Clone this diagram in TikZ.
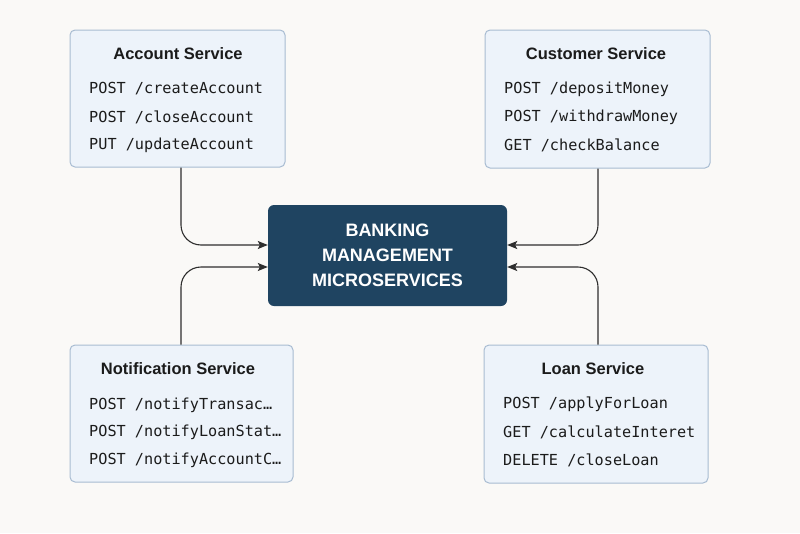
\documentclass[tikz,border=0pt]{standalone}
\usepackage{fontspec}
\setmainfont{Liberation Sans}
\newfontfamily\monofnt{DejaVu Sans Mono}
\usetikzlibrary{arrows.meta}
\definecolor{bgc}{HTML}{FAF9F7}
\definecolor{boxfill}{HTML}{EDF3FA}
\definecolor{boxdraw}{HTML}{A8BCD2}
\definecolor{corefill}{HTML}{1F4461}
\definecolor{txt}{HTML}{1B1B1B}
\definecolor{linec}{HTML}{2E2E2E}
\tikzset{
  svc/.style={draw=boxdraw, fill=boxfill, line width=1pt, rounded corners=5pt, inner sep=0pt},
  ttl/.style={font=\fontsize{16.5}{19}\selectfont\bfseries, text=txt, inner sep=0pt},
  ep/.style={font=\monofnt\fontsize{15.2}{18}\selectfont, text=txt, inner sep=0pt, anchor=west},
  core/.style={fill=corefill, rounded corners=6pt, inner sep=0pt, text=white, align=center,
    font=\fontsize{18}{25}\selectfont\bfseries},
  conn/.style={draw=linec, line width=1.1pt, rounded corners=20pt, -{Stealth[length=10pt,width=8pt,inset=2pt]}}
}
\begin{document}
\begin{tikzpicture}[x=1pt,y=-1pt]
\fill[bgc] (0,0) rectangle (800,533);
\useasboundingbox (0,0) rectangle (800,533);

% central node
\node[core, minimum width=239pt, minimum height=101pt] (core) at (387.5,255.5)
  {BANKING\\MANAGEMENT\\MICROSERVICES};

% Account Service
\node[svc, minimum width=215pt, minimum height=137pt] (acc) at (177.5,98.5) {};
\node[ttl] (acct) at (178,54) {Account Service};
\node[ep] (acc1) at (89,89) {POST /createAccount};
\node[ep] (acc2) at (89,117) {POST /closeAccount};
\node[ep] (acc3) at (89,145) {PUT /updateAccount};

% Customer Service
\node[svc, minimum width=225pt, minimum height=138pt] (cus) at (597.5,99) {};
\node[ttl] (cust) at (596,54) {Customer Service};
\node[ep] (cus1) at (504,89) {POST /depositMoney};
\node[ep] (cus2) at (504,117) {POST /withdrawMoney};
\node[ep] (cus3) at (504,145) {GET /checkBalance};

% Notification Service
\node[svc, minimum width=223pt, minimum height=137pt] (not) at (181.5,413.5) {};
\node[ttl] (nott) at (178,369) {Notification Service};
\node[ep] (not1) at (89,405) {POST /notifyTransac…};
\node[ep] (not2) at (89,432) {POST /notifyLoanStat…};
\node[ep] (not3) at (89,460) {POST /notifyAccountC…};

% Loan Service
\node[svc, minimum width=224pt, minimum height=138pt] (loan) at (596,414) {};
\node[ttl] (loant) at (593,369) {Loan Service};
\node[ep] (loan1) at (503,404) {POST /applyForLoan};
\node[ep] (loan2) at (503,432) {GET /calculateInteret};
\node[ep] (loan3) at (503,460) {DELETE /closeLoan};

% connectors
\draw[conn] ([xshift=3.5pt]acc.south) |- ([yshift=10.5pt]core.west);
\draw[conn] ([xshift=-0.5pt]not.north) |- ([yshift=-11.5pt]core.west);
\draw[conn] ([xshift=0.5pt]cus.south) |- ([yshift=10.5pt]core.east);
\draw[conn] ([xshift=2pt]loan.north) |- ([yshift=-11.5pt]core.east);
\end{tikzpicture}
\end{document}
